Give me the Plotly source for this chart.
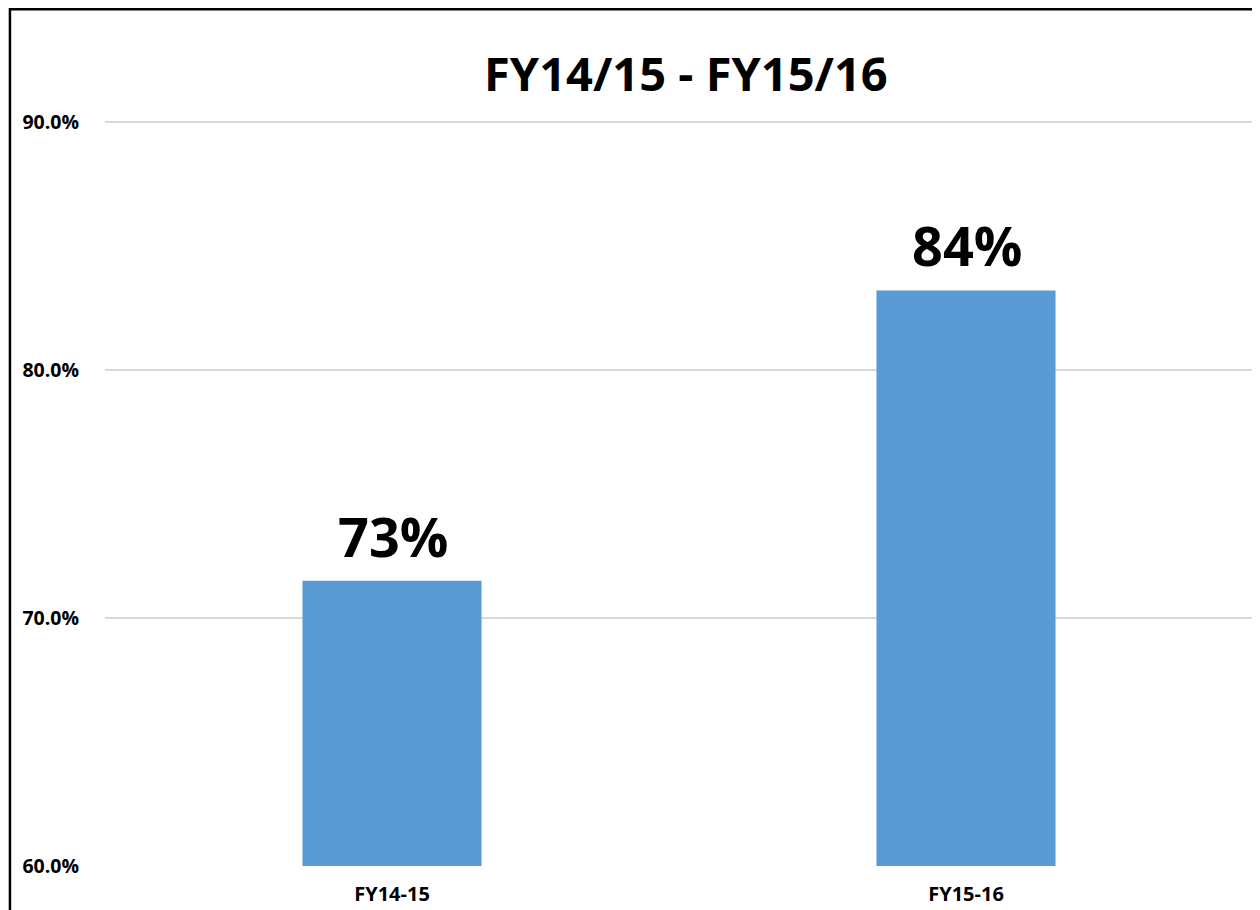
import plotly.graph_objects as go

categories = ["FY14-15", "FY15-16"]
values = [71.5, 83.2]
labels = ["73%", "84%"]
tick_vals = [60, 70, 80, 90]
tick_text = ["60.0%", "70.0%", "80.0%", "90.0%"]
title_text = "FY14/15 - FY15/16"

FONT = "Open Sans"

fig = go.Figure()
fig.add_trace(go.Bar(
    x=categories, y=values,
    marker=dict(color="#5b9bd5", line=dict(width=0)),
    width=0.312,
    hoverinfo="skip",
))

for c, v, t in zip(categories, values, labels):
    fig.add_annotation(x=c, y=v, text=f"<b>{t}</b>", showarrow=False,
                       yanchor="bottom", yshift=6, xshift=1,
                       font=dict(family=FONT, size=54, color="black"))

fig.add_shape(type="rect", xref="paper", yref="paper",
              x0=-0.0828, x1=1.02, y0=-0.2, y1=1.1455,
              line=dict(color="black", width=2.5), layer="above")

fig.update_layout(
    width=1252, height=902,
    margin=dict(l=97, r=7, t=110, b=44),
    paper_bgcolor="white", plot_bgcolor="white",
    showlegend=False,
    title=dict(text=f"<b>{title_text}</b>", x=0.506, xref="paper", xanchor="center",
               y=0.9257, yref="container", yanchor="middle",
               font=dict(family=FONT, size=47, color="black")),
    xaxis=dict(showgrid=False, showline=False, ticks="", ticklabelstandoff=14,
               automargin=False,
               tickfont=dict(family=FONT, size=20, color="black"),
               tickprefix="<b>", ticksuffix="</b>"),
    yaxis=dict(range=[60, 90.15], tickvals=tick_vals, ticktext=[f"<b>{t}</b>" for t in tick_text],
               showgrid=True, gridcolor="#d9d9d9", gridwidth=1.5, automargin=False,
               zeroline=False, showline=False, ticks="", ticklabelstandoff=25,
               tickfont=dict(family=FONT, size=19.5, color="black")),
)

fig.write_html("out.html")
